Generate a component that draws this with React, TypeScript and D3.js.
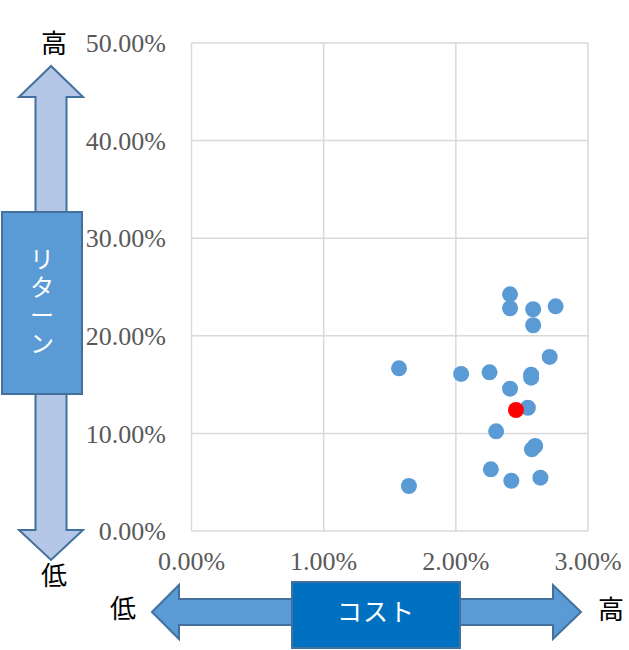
import React from 'react';
import * as d3 from 'd3';

// cost (%), return (%) for each fund
const costs = [2.41, 2.41, 2.585, 2.755, 2.585, 2.71, 1.57, 2.04, 2.255, 2.57, 2.57, 2.41, 2.545, 2.305, 2.6, 2.575, 2.265, 2.64, 2.42, 1.645];
const returns = [24.25, 22.82, 22.72, 23.02, 21.08, 17.84, 16.67, 16.09, 16.26, 16.01, 15.71, 14.58, 12.63, 10.21, 8.71, 8.37, 6.32, 5.46, 5.15, 4.61];
const highlight = { cost: 2.455, ret: 12.4 };

const xTicks = [0, 1, 2, 3];
const yTicks = [0, 10, 20, 30, 40, 50];

const W = 629;
const H = 650;
const jp = '"Noto Sans CJK JP", sans-serif';
const serif = '"Liberation Serif", serif';

const App: React.FC = () => {
  const x = d3.scaleLinear().domain([0, 3]).range([191.5, 588]);
  const y = d3.scaleLinear().domain([0, 50]).range([531, 43]);
  const fmt = (v: number) => v.toFixed(2) + '%';

  // vertical double arrow with label box
  const vUp = `M51,66 L19,97 L35.5,97 L35.5,212 L66.5,212 L66.5,97 L83,97 Z`;
  const vDown = `M35.5,394 L35.5,530 L19,530 L51,560 L83,530 L66.5,530 L66.5,394 Z`;
  // horizontal arrow behind the cost box
  const hArrow = `M152,612 L179,585 L179,599 L553,599 L553,585 L581,612 L553,639 L553,625 L179,625 L179,639 Z`;

  return (
    <svg width={W} height={H} style={{ position: 'absolute', left: 0, top: 0, background: '#fff' }}>
      {/* grid */}
      {xTicks.map(t => (
        <line key={'gx' + t} x1={x(t)} x2={x(t)} y1={y(50)} y2={y(0)} stroke="#d9d9d9" strokeWidth={1.5} />
      ))}
      {yTicks.map(t => (
        <line key={'gy' + t} x1={x(0)} x2={x(3)} y1={y(t)} y2={y(t)} stroke="#d9d9d9" strokeWidth={1.5} />
      ))}

      {/* tick labels */}
      {yTicks.map(t => (
        <text key={'ty' + t} x={166} y={y(t)} dy="0.35em" textAnchor="end" fontFamily={serif} fontSize={26} fill="#595959">
          {fmt(t)}
        </text>
      ))}
      {xTicks.map(t => (
        <text key={'tx' + t} x={x(t)} y={570} textAnchor="middle" fontFamily={serif} fontSize={26} fill="#595959">
          {fmt(t)}
        </text>
      ))}

      {/* points */}
      {costs.map((c, i) => (
        <circle key={i} cx={x(c)} cy={y(returns[i])} r={8} fill="#5b9bd5" />
      ))}
      <circle cx={x(highlight.cost)} cy={y(highlight.ret)} r={8} fill="#ff0000" />

      {/* return arrow */}
      <path d={vUp} fill="#b4c7e7" stroke="#41719c" strokeWidth={2} />
      <path d={vDown} fill="#b4c7e7" stroke="#41719c" strokeWidth={2} />
      <rect x={2} y={212} width={80} height={182} fill="#5b9bd5" stroke="#41719c" strokeWidth={2} />
      {['リ', 'タ', 'ー', 'ン'].map((ch, i) => (
        <text key={ch} x={42} y={260 + i * 28} dy="0.35em" textAnchor="middle" fontFamily={jp} fontSize={24} fill="#fff">
          {ch}
        </text>
      ))}
      <text x={54} y={44} dy="0.35em" textAnchor="middle" fontFamily={jp} fontSize={26} fill="#000">高</text>
      <text x={54} y={576} dy="0.35em" textAnchor="middle" fontFamily={jp} fontSize={26} fill="#000">低</text>

      {/* cost arrow */}
      <path d={hArrow} fill="#5b9bd5" stroke="#41719c" strokeWidth={2} />
      <rect x={292} y={582} width={168} height={66} fill="#0070c0" stroke="#41719c" strokeWidth={2} />
      <text x={376} y={612} dy="0.35em" textAnchor="middle" fontFamily={jp} fontSize={25} fill="#fff" letterSpacing={1}>
        コスト
      </text>
      <text x={123} y={609} dy="0.35em" textAnchor="middle" fontFamily={jp} fontSize={26} fill="#000">低</text>
      <text x={611} y={610} dy="0.35em" textAnchor="middle" fontFamily={jp} fontSize={26} fill="#000">高</text>
    </svg>
  );
};

export default App;
